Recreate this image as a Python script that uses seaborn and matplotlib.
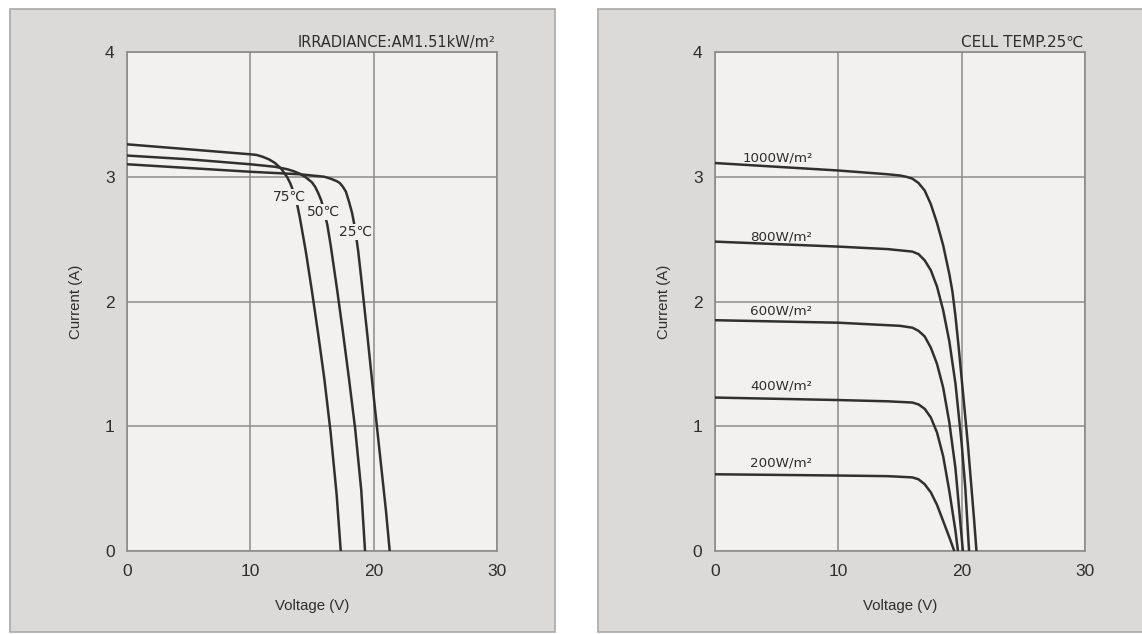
import matplotlib
matplotlib.use("Agg")
import matplotlib.pyplot as plt
import seaborn as sns
import pandas as pd
from matplotlib.patches import Rectangle

sns.set_theme(style="white")
plt.rcParams["font.family"] = ["Liberation Sans", "DejaVu Sans"]

# ---------------- data: left panel (temperature) ----------------
temp_names = ["25℃", "50℃", "75℃"]
v_25c = [0, 5, 10, 12, 14, 15, 16, 16.5, 17, 17.25, 17.5, 17.75, 18, 18.25, 18.5,
         18.75, 19, 19.5, 20, 20.5, 21, 21.3]
i_25c = [3.10, 3.07, 3.04, 3.03, 3.02, 3.01, 3.00, 2.985, 2.965, 2.95, 2.92, 2.88,
         2.80, 2.71, 2.58, 2.40, 2.18, 1.72, 1.24, 0.78, 0.32, 0.0]
v_50c = [0, 5, 10, 11, 12, 12.5, 13, 13.5, 14, 14.5, 15, 15.25, 15.5, 15.75, 16,
         16.25, 16.5, 17, 17.5, 18, 18.5, 19, 19.3]
i_50c = [3.17, 3.14, 3.10, 3.09, 3.08, 3.07, 3.06, 3.045, 3.025, 2.995, 2.955,
         2.92, 2.87, 2.81, 2.72, 2.61, 2.46, 2.12, 1.76, 1.38, 0.98, 0.48, 0.0]
v_75c = [0, 5, 10, 10.5, 11, 11.5, 12, 12.5, 13, 13.25, 13.5, 13.75, 14, 14.5, 15,
         15.5, 16, 16.5, 17, 17.33]
i_75c = [3.26, 3.22, 3.18, 3.175, 3.16, 3.14, 3.11, 3.065, 2.995, 2.945, 2.88,
         2.80, 2.68, 2.40, 2.08, 1.74, 1.38, 0.96, 0.45, 0.0]

# ---------------- data: right panel (irradiance) ----------------
irr_names = ["1000W/m²", "800W/m²", "600W/m²", "400W/m²", "200W/m²"]
v_1000 = [0, 5, 10, 14, 15, 15.5, 16, 16.5, 17, 17.5, 18, 18.5, 19, 19.25, 19.5,
          19.75, 20, 20.5, 21, 21.2]
i_1000 = [3.11, 3.08, 3.05, 3.02, 3.01, 3.00, 2.985, 2.95, 2.89, 2.78, 2.63, 2.45,
          2.22, 2.08, 1.88, 1.64, 1.38, 0.86, 0.26, 0.0]
v_800 = [0, 5, 10, 14, 15, 16, 16.5, 17, 17.5, 18, 18.5, 19, 19.5, 20, 20.3, 20.6]
i_800 = [2.48, 2.46, 2.44, 2.42, 2.41, 2.40, 2.38, 2.33, 2.25, 2.12, 1.93, 1.68,
         1.34, 0.86, 0.50, 0.0]
v_600 = [0, 5, 10, 14, 15, 16, 16.5, 17, 17.5, 18, 18.5, 19, 19.5, 20.1]
i_600 = [1.85, 1.84, 1.83, 1.81, 1.805, 1.79, 1.765, 1.72, 1.63, 1.50, 1.31,
         1.03, 0.66, 0.0]
v_400 = [0, 5, 10, 14, 15, 16, 16.5, 17, 17.5, 18, 18.5, 19, 19.5, 19.7]
i_400 = [1.23, 1.22, 1.21, 1.20, 1.195, 1.19, 1.175, 1.14, 1.07, 0.95, 0.76,
         0.48, 0.16, 0.0]
v_200 = [0, 5, 10, 14, 15, 16, 16.5, 17, 17.5, 18, 18.5, 19, 19.4]
i_200 = [0.615, 0.61, 0.605, 0.60, 0.595, 0.59, 0.575, 0.535, 0.47, 0.37, 0.24,
         0.11, 0.0]

x_ticks = [0, 10, 20, 30]
y_ticks = [0, 1, 2, 3, 4]

left_title = "IRRADIANCE:AM1.51kW/m²"
right_title = "CELL TEMP.25℃"
x_label = "Voltage (V)"
y_label = "Current (A)"


def to_long(names, vs, is_):
    rows = []
    for n, v, i in zip(names, vs, is_):
        for a, b in zip(v, i):
            rows.append({"curve": n, "V": a, "I": b})
    return pd.DataFrame(rows)


df_temp = to_long(temp_names, [v_25c, v_50c, v_75c], [i_25c, i_50c, i_75c])
df_irr = to_long(irr_names, [v_1000, v_800, v_600, v_400, v_200],
                 [i_1000, i_800, i_600, i_400, i_200])

W, H = 1142, 634
fig = plt.figure(figsize=(W / 100, H / 100), dpi=100)
fig.patch.set_facecolor("white")

panel_col = "#dbdad9"
panel_edge = "#a9a9a9"
plot_bg = "#f3f1ef"
line_col = "#303030"
grid_col = "#8c8c8c"
text_col = "#2e2e2e"

fig.add_artist(Rectangle((10 / W, 0.003), 545 / W, 623 / H,
                         transform=fig.transFigure, facecolor=panel_col,
                         edgecolor=panel_edge, lw=1.2, zorder=0))
fig.add_artist(Rectangle((598 / W, 0.003), 560 / W, 623 / H,
                         transform=fig.transFigure, facecolor=panel_col,
                         edgecolor=panel_edge, lw=1.2, zorder=0))

ax1 = fig.add_axes([127 / W, 83 / H, 370 / W, 499 / H])
ax2 = fig.add_axes([715 / W, 83 / H, 370 / W, 499 / H])

for ax, df, names in [(ax1, df_temp, temp_names), (ax2, df_irr, irr_names)]:
    ax.set_facecolor(plot_bg)
    sns.lineplot(data=df, x="V", y="I", hue="curve", hue_order=names,
                 palette={n: line_col for n in names}, sort=False,
                 estimator=None, legend=False, lw=1.8, ax=ax, zorder=3)
    ax.set_xlim(0, 30)
    ax.set_ylim(0, 4)
    ax.set_xticks(x_ticks)
    ax.set_yticks(y_ticks)
    ax.grid(True, color=grid_col, lw=1.1, zorder=1)
    ax.set_axisbelow(True)
    for s in ax.spines.values():
        s.set_visible(True)
        s.set_color(grid_col)
        s.set_linewidth(1.2)
    ax.tick_params(length=0, labelsize=12.5, colors=text_col, pad=9)
    ax.set_xlabel(x_label, fontsize=10.8, color=text_col, labelpad=15)
    ax.set_ylabel(y_label, fontsize=10.8, color=text_col, labelpad=16)

ax1.text(29.9, 4.02, left_title, ha="right", va="bottom", fontsize=10.5,
         color=text_col, family=["DejaVu Sans"])
ax2.text(29.9, 4.02, right_title, ha="right", va="bottom", fontsize=11,
         color=text_col, family=["DejaVu Sans"])

bb = dict(boxstyle="square,pad=0.08", facecolor=plot_bg, edgecolor="none")
temp_pos = {"75℃": (13.2, 2.84), "50℃": (15.9, 2.72), "25℃": (18.5, 2.56)}
for n in temp_names:
    x, y = temp_pos[n]
    ax1.text(x, y, n, ha="center", va="center", fontsize=10, color=text_col,
             bbox=bb, zorder=5, family=["DejaVu Sans"])

irr_pos = {"1000W/m²": (2.25, 3.15), "800W/m²": (2.85, 2.52),
           "600W/m²": (2.85, 1.92), "400W/m²": (2.85, 1.32),
           "200W/m²": (2.85, 0.705)}
for n in irr_names:
    x, y = irr_pos[n]
    ax2.text(x, y, n, ha="left", va="center", fontsize=9.7, color=text_col,
             zorder=5, family=["DejaVu Sans"])

fig.savefig("out.png", dpi=100, facecolor=fig.get_facecolor())
